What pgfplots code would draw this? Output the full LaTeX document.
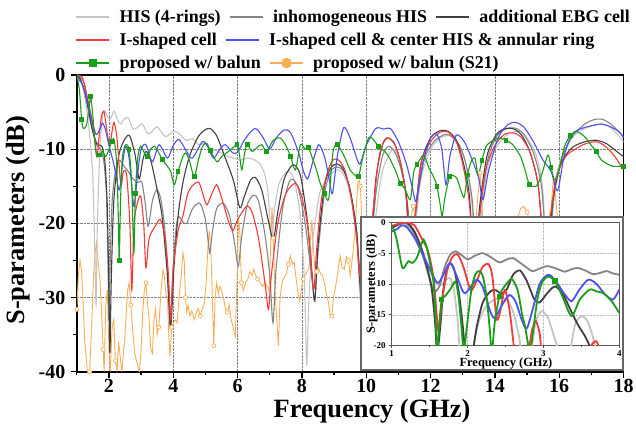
\documentclass[border=0pt]{standalone}
\usepackage{pgfplots}
\pgfplotsset{compat=1.18}
\usepackage{fontspec}
\setmainfont{Liberation Serif}
\definecolor{cLG}{HTML}{C4C4C4}
\definecolor{cMG}{HTML}{858585}
\definecolor{cDG}{HTML}{404040}
\definecolor{cR}{HTML}{F53A3A}
\definecolor{cB}{HTML}{4F4FF5}
\definecolor{cG}{HTML}{1A9E1A}
\definecolor{cO}{HTML}{F9AE55}
\pgfplotsset{
  legrow/.style={hide axis, scale only axis, width=546.7bp, height=296.7bp,
    at={(0,0)}, anchor=south west, xmin=0,xmax=1,ymin=0,ymax=1,
    legend columns=-1,
    legend image code/.code={\draw[mark repeat=2,mark phase=2,##1] plot coordinates {(0bp,0bp) (16.5bp,0bp) (33bp,0bp)};},
    legend style={at={(axis description cs:-0.0033,#1)}, anchor=west, draw=none, fill=none,
      inner sep=0pt, font=\bfseries\fontsize{18}{20}\selectfont,
      nodes={inner xsep=0pt, inner ysep=1bp},
      /tikz/every even column/.append style={column sep=8bp},
      /tikz/every odd column/.append style={column sep=9bp}}}
}
\begin{document}
\begin{tikzpicture}
\begin{axis}[name=main, at={(0,0)}, anchor=south west, scale only axis,
  width=546.7bp, height=296.7bp,
  xmin=1, xmax=18, ymin=-40, ymax=0,
  xtick={2,4,...,18}, minor xtick={1,3,...,17},
  ytick={0,-10,-20,-30,-40}, minor ytick={-5,-15,-25,-35},
  xtick pos=left, ytick pos=left, tick align=outside,
  major tick length=6bp, minor tick length=3.5bp,
  every tick/.style={black, line width=1.3bp},
  axis line style={black, line width=1.8bp},
  grid=major, grid style={densely dotted, gray, line width=0.6bp},
  /pgf/number format/assume math mode=true,
  tick label style={font=\bfseries\fontsize{20}{20}\selectfont},
  xticklabel style={yshift=2bp},
  yticklabel style={xshift=-2bp},
  xlabel={Frequency (GHz)}, ylabel={S-parameters (dB)},
  label style={font=\bfseries\fontsize{26.5}{26.5}\selectfont},
  xlabel style={at={(axis description cs:0.54,-0.132)}, anchor=center},
  ylabel style={at={(axis description cs:-0.1076,0.511)}, anchor=center, rotate=0},
  every axis plot/.append style={line width=1.1bp},
]
% proposed w/ balun (S21)
\addplot[cO, line width=0.9bp, mark=*, mark size=2bp, mark repeat=8, mark options={fill=white, draw=cO, line width=0.7bp}] coordinates {
(1.00,-31.6)(1.05,-27)(1.10,-25)(1.15,-26.5)(1.20,-31)(1.25,-36)(1.28,-37.4)(1.33,-40)(1.40,-40)(1.47,-33)(1.52,-27)(1.57,-24)(1.61,-22.6)(1.66,-25)(1.72,-27.5)(1.77,-32)(1.82,-37)(1.85,-40)(1.90,-31)(1.95,-29)(2.00,-37)(2.04,-40)(2.10,-34)(2.15,-33)(2.20,-38.5)(2.25,-40)(2.30,-36)(2.35,-38)(2.40,-40)(2.50,-35)(2.58,-29)(2.63,-28)(2.68,-31)(2.73,-34)(2.80,-37.5)(2.88,-39)(2.95,-40)(3.00,-37)(3.05,-32)(3.10,-29)(3.15,-28)(3.20,-31)(3.25,-33)(3.30,-37)(3.35,-37.5)(3.40,-33)(3.45,-31.5)(3.50,-35)(3.55,-34)(3.62,-29)(3.68,-26.3)(3.72,-27)(3.78,-29.8)(3.82,-30)(3.86,-35)(3.90,-38)(3.95,-34)(4.00,-33.5)(4.06,-33)(4.12,-33.4)(4.18,-30)(4.25,-27)(4.30,-24)(4.34,-25)(4.38,-30)(4.42,-32)(4.46,-31)(4.52,-32.5)(4.58,-31.8)(4.65,-33)(4.72,-32)(4.78,-31.5)(4.84,-32.5)(4.90,-31.5)(4.96,-31)(5.02,-28)(5.08,-23)(5.12,-21)(5.18,-25)(5.22,-31)(5.26,-36.5)(5.30,-30)(5.35,-28)(5.40,-29.5)(5.45,-28.5)(5.50,-29)(5.56,-30)(5.62,-31.5)(5.68,-32)(5.74,-31)(5.80,-33)(5.86,-34)(5.93,-35.2)(5.98,-28)(6.03,-19.5)(6.07,-21)(6.12,-28)(6.18,-29)(6.25,-28)(6.32,-27.5)(6.38,-26.5)(6.45,-27)(6.50,-26.2)(6.56,-27)(6.62,-27.5)(6.70,-28)(6.78,-28.5)(6.85,-28)(6.92,-28.5)(6.98,-29)(7.02,-24)(7.07,-17.8)(7.11,-22)(7.16,-29)(7.22,-33)(7.27,-36.5)(7.32,-30)(7.38,-28)(7.45,-27.3)(7.52,-26.8)(7.58,-25.5)(7.64,-24.4)(7.70,-25.5)(7.76,-25.2)(7.82,-27.5)(7.88,-29.5)(7.93,-30.5)(7.98,-29)(8.04,-27.5)(8.10,-27)(8.16,-26.5)(8.22,-26)(8.27,-22)(8.31,-19.5)(8.35,-23)(8.40,-26)(8.46,-26.5)(8.52,-26)(8.58,-26.8)(8.64,-27)(8.70,-28)(8.76,-29.5)(8.82,-30.5)(8.88,-32.5)(8.93,-32.5)(8.98,-30)(9.05,-28.5)(9.12,-26.5)(9.19,-24.4)(9.25,-26)(9.32,-26.2)(9.38,-24.5)(9.45,-25)(9.50,-27.1)(9.56,-25)(9.62,-22.5)(9.66,-20.9)(9.70,-17)(9.74,-14.5)(9.78,-14.2)(9.82,-15)(9.86,-19)(9.90,-24)(10.0,-28)(10.5,-27)(11.0,-25)(11.3,-23)(11.42,-18.5)(11.46,-17.7)(11.52,-19.5)(11.6,-24)(12.0,-26)(12.5,-25)(13.0,-24)(13.4,-20)(13.5,-15)(13.54,-13.2)(13.58,-16)(13.65,-21)(14.0,-24)(14.5,-22)(14.7,-19.5)(14.8,-18)(14.9,-17.7)(15.0,-18.5)(15.1,-20)(15.5,-22)(15.75,-18)(15.82,-13.7)(15.88,-16)(16.0,-22)(16.5,-24)(17.0,-23)(17.5,-24)(18.0,-23)};
% HIS (4-rings)
\addplot[cLG, smooth, tension=0.45] coordinates {
(1,0)(1.1,-0.5)(1.25,-3)(1.4,-8)(1.5,-14)(1.56,-24)(1.6,-31)(1.64,-20)(1.72,-10)(1.8,-5.5)(1.87,-4.8)(1.95,-5.6)(2.05,-5.9)(2.16,-4.9)(2.28,-6.2)(2.37,-6.6)(2.48,-5.9)(2.6,-5.8)(2.75,-7.3)(2.9,-7.0)(3.04,-6.6)(3.2,-7.9)(3.32,-7.7)(3.5,-7.0)(3.75,-8.3)(4.0,-7.6)(4.15,-7.8)(4.4,-8.8)(4.6,-8.6)(4.8,-9.4)(5.0,-9.2)(5.15,-10)(5.4,-10.3)(5.6,-10.8)(5.87,-11.2)(6.1,-11.5)(6.3,-11.2)(6.5,-11.4)(6.7,-12)(6.85,-13.5)(6.95,-16)(7.05,-22)(7.15,-18)(7.3,-14.5)(7.55,-13)(7.75,-14)(7.95,-19)(8.08,-28)(8.15,-39)(8.22,-30)(8.35,-22)(8.55,-16)(8.8,-13.8)(9.1,-12.8)(9.3,-13.5)(9.5,-16)(9.7,-22)(9.85,-32)(10.05,-30)(10.3,-19)(10.5,-13)(10.8,-10.1)(11.0,-11)(11.2,-15)(11.35,-22)(11.42,-30)(11.5,-22)(11.7,-14)(12.0,-10)(12.3,-8.5)(12.66,-8.1)(12.9,-9.5)(13.1,-12)(13.3,-18)(13.44,-30)(13.55,-20)(13.8,-12)(14.2,-8.8)(14.5,-7.8)(14.77,-7.6)(15.0,-8.5)(15.3,-11)(15.5,-16)(15.65,-30)(15.8,-17)(16.0,-12)(16.4,-8.5)(16.8,-7.2)(17.2,-6.7)(17.46,-6.7)(17.7,-7.5)(18,-9)};
% inhomogeneous HIS
\addplot[cMG, smooth, tension=0.45] coordinates {
(1.0,0)(1.1,-0.3)(1.23,-1.1)(1.35,-4)(1.45,-6.5)(1.54,-8.3)(1.62,-9.5)(1.7,-9.8)(1.78,-10.5)(1.85,-12)(1.92,-16)(1.97,-25)(2.0,-33)(2.04,-25)(2.1,-17)(2.2,-13)(2.3,-11.5)(2.4,-11.8)(2.47,-12.3)(2.6,-13)(2.75,-14)(2.9,-14.5)(3.02,-14.4)(3.12,-17)(3.22,-20.4)(3.35,-17)(3.48,-15.5)(3.6,-16.5)(3.72,-20)(3.82,-26)(3.9,-33.9)(3.98,-27)(4.08,-21)(4.16,-19.1)(4.3,-19.8)(4.42,-20)(4.6,-18)(4.83,-17.3)(5.0,-19.5)(5.1,-23)(5.14,-24)(5.22,-21)(5.35,-18)(5.56,-17.3)(5.75,-19)(5.9,-22.5)(6.02,-25.8)(6.12,-22)(6.3,-17.5)(6.5,-16.2)(6.65,-17)(6.85,-21.5)(7.0,-27)(7.1,-33.4)(7.2,-26)(7.4,-18)(7.6,-14.5)(7.74,-14.1)(7.9,-15.5)(8.1,-20)(8.3,-27)(8.4,-30.3)(8.5,-24)(8.7,-16)(8.9,-13)(9.1,-12.4)(9.3,-13)(9.5,-15.5)(9.7,-21)(9.85,-28)(10.1,-25)(10.3,-16)(10.5,-11)(10.7,-9.6)(10.9,-10.5)(11.1,-13)(11.3,-18)(11.42,-26)(11.55,-18)(11.8,-11.5)(12.1,-9)(12.45,-8)(12.65,-8.3)(12.9,-9.5)(13.1,-12)(13.3,-17)(13.42,-25)(13.55,-18)(13.8,-11)(14.1,-8)(14.4,-7.2)(14.66,-7.2)(14.9,-8)(15.2,-10.5)(15.45,-15)(15.65,-25)(15.85,-16)(16.1,-11)(16.4,-8.3)(16.8,-6.6)(17.1,-6.0)(17.36,-6.0)(17.6,-6.6)(17.8,-7.4)(18,-8.3)};
% additional EBG cell
\addplot[cDG, smooth, tension=0.45] coordinates {
(1.0,0)(1.1,-0.5)(1.23,-2)(1.35,-4.5)(1.45,-6.8)(1.54,-8.3)(1.62,-9.2)(1.72,-9.5)(1.8,-9.8)(1.88,-12)(1.95,-18)(2.0,-30)(2.03,-37.5)(2.07,-28)(2.15,-17)(2.3,-11)(2.45,-9)(2.63,-8.1)(2.8,-10.5)(2.94,-14)(3.05,-11.5)(3.15,-10.3)(3.3,-11.5)(3.5,-15.5)(3.65,-19)(3.8,-26)(3.92,-33.9)(4.02,-26)(4.15,-19)(4.3,-14.5)(4.5,-11)(4.75,-8.5)(4.95,-7.5)(5.14,-7.2)(5.35,-8.2)(5.6,-11)(5.87,-14.2)(6.07,-17.9)(6.2,-16.5)(6.4,-14.2)(6.55,-13.8)(6.75,-15.5)(6.95,-19.5)(7.11,-22.2)(7.25,-18.5)(7.45,-14)(7.73,-12.1)(7.95,-13.5)(8.15,-19)(8.3,-26)(8.4,-30.5)(8.5,-23)(8.7,-15)(8.9,-12.5)(9.1,-12)(9.3,-12.8)(9.5,-15.5)(9.7,-21)(9.85,-30)(10.1,-25)(10.3,-14)(10.5,-9.5)(10.64,-8.5)(10.85,-9)(11.05,-11.5)(11.25,-16.5)(11.38,-25)(11.5,-20)(11.7,-12)(12.0,-8.5)(12.3,-7.5)(12.55,-7.6)(12.8,-8.8)(13.0,-11.5)(13.2,-16)(13.38,-26)(13.52,-18)(13.75,-11)(14.05,-8)(14.35,-7.2)(14.6,-7.3)(14.85,-8.2)(15.1,-10.5)(15.35,-15)(15.6,-26)(15.8,-17)(16.05,-12)(16.4,-9.8)(16.8,-9)(17.15,-8.8)(17.45,-9.2)(17.7,-10)(18,-11)};
% I-shaped cell
\addplot[cR, smooth, tension=0.45] coordinates {
(1,0)(1.15,-0.2)(1.25,-1.5)(1.4,-4.5)(1.49,-6.5)(1.57,-9)(1.63,-11)(1.7,-8)(1.77,-5.5)(1.85,-5.0)(1.95,-8)(2.03,-9.5)(2.1,-7.5)(2.16,-6.4)(2.25,-8.5)(2.37,-14.8)(2.45,-13)(2.55,-13.5)(2.65,-20)(2.71,-29)(2.78,-20)(2.9,-17)(2.99,-16.4)(3.08,-20)(3.15,-26)(3.25,-22)(3.45,-20.3)(3.6,-19.5)(3.75,-22)(3.85,-27)(3.92,-33)(4.0,-26)(4.15,-21)(4.3,-19)(4.45,-16)(4.62,-14.8)(4.8,-14.5)(4.95,-16.5)(5.05,-17.5)(5.2,-16)(5.35,-14.8)(5.5,-16.5)(5.7,-19.5)(5.85,-21)(6.0,-19.5)(6.28,-17.7)(6.45,-18.5)(6.65,-22)(6.85,-28)(6.96,-31.6)(7.05,-27)(7.25,-20)(7.5,-16)(7.8,-14.6)(8.0,-16.5)(8.2,-21)(8.36,-29)(8.45,-24)(8.6,-17)(8.8,-13)(8.98,-11.4)(9.15,-11.5)(9.35,-13)(9.55,-17)(9.7,-22)(9.8,-27)(10.0,-30)(10.2,-19)(10.4,-11)(10.64,-8.5)(10.9,-9.5)(11.1,-12.5)(11.25,-17)(11.35,-25)(11.5,-20)(11.7,-12)(12.0,-9)(12.3,-7.7)(12.55,-7.7)(12.8,-9)(13.0,-12)(13.2,-17)(13.35,-25)(13.5,-20)(13.7,-13)(14.0,-9.5)(14.3,-8)(14.55,-7.8)(14.8,-8.3)(15.1,-10.5)(15.35,-15)(15.55,-25)(15.7,-20)(15.9,-14)(16.2,-11)(16.5,-10)(16.8,-9.3)(17.15,-9.0)(17.4,-9.5)(17.7,-10.8)(18,-12.8)};
% I-shaped cell & center HIS & annular ring
\addplot[cB, smooth, tension=0.45] coordinates {
(1,-0.3)(1.1,-0.8)(1.2,-1.5)(1.35,-4)(1.49,-6.5)(1.6,-8)(1.7,-7.5)(1.8,-6.5)(1.9,-7.5)(2.0,-9.5)(2.15,-12)(2.32,-15.5)(2.42,-12)(2.52,-9.6)(2.62,-11)(2.7,-14.5)(2.78,-17.7)(2.9,-13)(3.0,-10)(3.15,-9.4)(3.35,-11.7)(3.56,-9.4)(3.82,-11.2)(4.0,-9.5)(4.18,-8.7)(4.44,-10.5)(4.6,-11.2)(4.9,-9)(5.05,-9.5)(5.25,-11.2)(5.45,-10)(5.62,-9.4)(5.85,-10.5)(6.0,-10.4)(6.25,-8.5)(6.55,-7.2)(6.8,-8.5)(7.0,-10)(7.2,-8.5)(7.45,-7.4)(7.65,-7.8)(7.9,-10.5)(8.05,-13)(8.18,-14)(8.32,-12)(8.52,-9.4)(8.7,-11)(8.85,-14)(8.95,-16)(9.1,-11)(9.3,-7.1)(9.5,-8.5)(9.65,-10.5)(9.8,-12)(10.0,-9.5)(10.3,-7.2)(10.55,-7.3)(10.75,-7.2)(11.0,-9)(11.25,-12)(11.45,-15.5)(11.55,-17)(11.75,-12)(12.0,-8.5)(12.2,-8.0)(12.35,-10)(12.48,-14.8)(12.6,-11)(12.8,-8.1)(13.05,-9)(13.3,-11.5)(13.5,-14)(13.63,-16.8)(13.8,-13)(14.1,-8.5)(14.4,-6.7)(14.65,-6.4)(14.9,-7)(15.2,-9)(15.5,-11.5)(15.75,-13)(15.95,-15.6)(16.15,-11)(16.4,-8)(16.7,-7.2)(16.95,-6.9)(17.3,-6.6)(17.6,-7.0)(17.85,-7.6)(18,-8.5)};
% proposed w/ balun
\addplot[cG, smooth, tension=0.45, mark=square*, mark size=1.8bp, mark repeat=4, mark phase=3, mark options={solid, fill=cG}] coordinates {
(1,0)(1.08,-2)(1.15,-6)(1.2,-7.2)(1.3,-6.8)(1.38,-4.5)(1.43,-2.9)(1.5,-5.5)(1.56,-9)(1.62,-11)(1.7,-10.8)(1.8,-10.3)(1.9,-11)(2.0,-10)(2.08,-9)(2.16,-8.7)(2.24,-12)(2.29,-19)(2.32,-25)(2.36,-17)(2.42,-11)(2.52,-9.4)(2.62,-10)(2.7,-14)(2.75,-21)(2.78,-23.8)(2.82,-16)(2.9,-11)(2.99,-9.6)(3.1,-10.5)(3.2,-11)(3.3,-10)(3.42,-9.6)(3.55,-10.5)(3.66,-11.4)(3.8,-12.2)(3.92,-13)(4.03,-14.8)(4.15,-13)(4.3,-11)(4.39,-10.5)(4.5,-11.5)(4.65,-13.7)(4.78,-11.5)(4.91,-9.6)(5.04,-9.2)(5.15,-10.2)(5.36,-11.7)(5.5,-11)(5.75,-10.2)(5.98,-9.4)(6.05,-10.5)(6.13,-12.8)(6.22,-10.5)(6.3,-9.4)(6.45,-10.3)(6.6,-9.8)(6.75,-9.4)(6.9,-10.3)(7.11,-8.8)(7.33,-8.5)(7.5,-9.5)(7.65,-11)(7.8,-12.8)(7.95,-9.4)(8.1,-10)(8.2,-9.8)(8.31,-11)(8.45,-12.8)(8.57,-14.6)(8.7,-16)(8.83,-16.8)(8.92,-12.5)(8.98,-10)(9.1,-9.4)(9.3,-10.8)(9.5,-12.8)(9.65,-13.5)(9.76,-13.7)(9.9,-11)(10.07,-8.5)(10.18,-8.5)(10.38,-9.6)(10.55,-10.2)(10.7,-11)(10.9,-12.8)(11.06,-14.6)(11.2,-15.3)(11.37,-16.8)(11.48,-13)(11.58,-12.1)(11.78,-10.8)(11.95,-12.5)(12.1,-13.8)(12.2,-15)(12.3,-17.5)(12.36,-19)(12.45,-16.5)(12.6,-13.7)(12.8,-13.8)(12.97,-15.9)(13.05,-16.4)(13.15,-13.5)(13.25,-11.8)(13.38,-11.2)(13.48,-13.5)(13.6,-11.5)(13.73,-9.6)(13.95,-8.8)(14.15,-8.5)(14.35,-8.8)(14.56,-9.4)(14.8,-11)(14.95,-13)(15.08,-14.8)(15.28,-15)(15.45,-13.5)(15.65,-10.8)(15.75,-12.5)(15.85,-14.1)(15.95,-13.5)(16.17,-9.6)(16.35,-8.2)(16.53,-7.6)(16.79,-8.3)(17.0,-9.5)(17.15,-10.3)(17.3,-11.4)(17.5,-12)(17.67,-12.3)(18,-12.3)};
\end{axis}
% legend rows
\begin{axis}[legrow=1.1955]
\addlegendimage{cLG, line width=2.4bp}\addlegendentry{HIS (4-rings)}
\addlegendimage{cMG, line width=2.4bp}\addlegendentry{inhomogeneous HIS}
\addlegendimage{cDG, line width=2.4bp}\addlegendentry{additional EBG cell}
\end{axis}
\begin{axis}[legrow=1.1177]
\addlegendimage{cR, line width=2.4bp}\addlegendentry{I-shaped cell}
\addlegendimage{cB, line width=2.4bp}\addlegendentry{I-shaped cell \& center HIS \& annular ring}
\end{axis}
\begin{axis}[legrow=1.04]
\addlegendimage{cG, line width=2.4bp, mark=square*, mark size=3bp}\addlegendentry{proposed w/ balun}
\addlegendimage{cO, line width=2.4bp, mark=*, mark size=4bp}\addlegendentry{proposed w/ balun (S21)}
\end{axis}
% inset frame
\filldraw[fill=white, draw=black!60, line width=1.5bp] (284.2bp,1.8bp) rectangle (546bp,154.7bp);
\begin{axis}[at={(314.9bp,26bp)}, anchor=south west, scale only axis,
  width=227.6bp, height=123.4bp,
  xmin=1, xmax=4, ymin=-20, ymax=0,
  xtick={1,2,3,4}, ytick={0,-5,-10,-15,-20},
  minor xtick={1.5,2.5,3.5},
  xtick pos=left, ytick pos=left, tick align=outside,
  major tick length=2.5bp, minor tick length=1.5bp,
  every tick/.style={black!70, line width=0.8bp},
  axis line style={black!65, line width=1.2bp},
  grid=major, grid style={densely dotted, black!25, line width=0.5bp},
  /pgf/number format/assume math mode=true,
  tick label style={font=\bfseries\fontsize{9}{9}\selectfont},
  xticklabel style={yshift=1bp},
  xlabel={Frequency (GHz)}, ylabel={S-parameters (dB)},
  label style={font=\bfseries\fontsize{12.5}{12.5}\selectfont},
  xlabel style={at={(axis description cs:0.502,-0.148)}, anchor=center},
  ylabel style={at={(axis description cs:-0.0866,0.5)}, anchor=center},
  every axis plot/.append style={line width=1.8bp},
]
\addplot[cLG, smooth, tension=0.45] coordinates {
(1.0,-0.9)(1.1,-0.3)(1.2,-0.5)(1.3,-2.2)(1.4,-5.0)(1.5,-7.8)(1.58,-9.8)(1.65,-10.2)(1.72,-9.3)(1.77,-9.1)(1.82,-11)(1.87,-16)(1.9,-21)(1.98,-26)(2.06,-21)(2.15,-16)(2.25,-13.5)(2.35,-12.6)(2.45,-12.3)(2.52,-12.5)(2.6,-14.5)(2.67,-18)(2.71,-21)(2.78,-25)(2.84,-21)(2.9,-16)(2.98,-14.4)(3.06,-15.5)(3.14,-18.5)(3.2,-21)(3.28,-25)(3.35,-21)(3.42,-16.5)(3.5,-15.2)(3.58,-16)(3.65,-18.5)(3.7,-21)(3.8,-25)(4.0,-25)};
\addplot[cMG, smooth, tension=0.45] coordinates {
(1.0,-0.9)(1.08,-0.3)(1.15,0)(1.25,-0.8)(1.35,-3.2)(1.45,-7)(1.52,-10)(1.57,-11.2)(1.63,-10.3)(1.7,-7.2)(1.77,-5.3)(1.84,-4.7)(1.92,-5.3)(2.0,-6.0)(2.1,-5.4)(2.2,-5.0)(2.3,-5.6)(2.42,-6.5)(2.52,-6.0)(2.6,-5.8)(2.72,-6.8)(2.85,-7.9)(2.95,-7.5)(3.05,-7.1)(3.17,-7.5)(3.28,-8.0)(3.37,-7.6)(3.45,-7.4)(3.55,-7.8)(3.65,-8.4)(3.75,-8.2)(3.83,-7.9)(3.92,-8.3)(4.0,-8.5)};
\addplot[cDG, smooth, tension=0.45] coordinates {
(1.0,-0.9)(1.1,-0.3)(1.2,0)(1.3,-1.5)(1.4,-4.5)(1.48,-8)(1.53,-11)(1.57,-16)(1.6,-21)(1.64,-17)(1.68,-11)(1.73,-7.5)(1.77,-6.6)(1.82,-7.5)(1.88,-11)(1.93,-16)(1.97,-21)(2.02,-24)(2.07,-21)(2.12,-17)(2.2,-13)(2.3,-11.2)(2.37,-11)(2.45,-11.6)(2.52,-10.8)(2.6,-8.5)(2.69,-7.8)(2.78,-9.5)(2.88,-12.5)(2.95,-13)(3.05,-11.5)(3.15,-10.4)(3.25,-11.5)(3.35,-14)(3.45,-16.5)(3.55,-18.5)(3.65,-21)(3.8,-24)(4.0,-25)};
\addplot[cR, smooth, tension=0.45] coordinates {
(1.0,-0.6)(1.1,-0.2)(1.2,0)(1.3,-0.5)(1.39,-2.5)(1.48,-4.7)(1.55,-9)(1.6,-16)(1.62,-17.5)(1.66,-13)(1.73,-7.9)(1.8,-5.6)(1.87,-5.2)(1.95,-7.4)(2.04,-11)(2.12,-9.5)(2.2,-7.2)(2.28,-6.8)(2.33,-9)(2.38,-15.5)(2.42,-15)(2.49,-11)(2.55,-14)(2.6,-19)(2.62,-21)(2.7,-25)(2.8,-21)(2.85,-17.5)(2.9,-16)(2.95,-18)(2.98,-21)(3.1,-25)(3.5,-25)(3.6,-21)(3.65,-19.6)(3.7,-19.3)(3.75,-21)(3.85,-25)(4.0,-25)};
\addplot[cB, smooth, tension=0.45] coordinates {
(1.0,-1.5)(1.07,-1.1)(1.13,-0.5)(1.2,-0.8)(1.3,-2.5)(1.39,-4.7)(1.5,-7.5)(1.58,-9.5)(1.62,-9.8)(1.68,-8.5)(1.77,-6.6)(1.85,-8.5)(1.93,-11)(1.97,-11.5)(2.04,-10.5)(2.12,-9.3)(2.2,-10.5)(2.3,-14.5)(2.36,-15.5)(2.45,-13.5)(2.55,-11.8)(2.63,-12.8)(2.72,-16)(2.78,-17.2)(2.85,-14.5)(2.95,-10)(3.06,-8.5)(3.15,-9.3)(3.27,-11.5)(3.37,-12.8)(3.47,-11)(3.59,-9.3)(3.7,-10)(3.82,-11.8)(3.92,-12.5)(4.0,-10.9)};
\addplot[cG, smooth, tension=0.45, mark=square*, mark size=1.8bp, mark indices={15,29,39,48,55,59}, mark options={fill=cG}] coordinates {
(1.0,-0.4)(1.06,-2.5)(1.13,-6.9)(1.16,-7.4)(1.22,-6.3)(1.27,-6.6)(1.33,-5.8)(1.39,-3.6)(1.42,-2.8)(1.46,-4)(1.5,-6.3)(1.55,-9.6)(1.58,-16)(1.6,-21)(1.63,-16)(1.66,-12.5)(1.7,-12)(1.77,-10.9)(1.84,-9.6)(1.88,-12)(1.92,-17)(1.95,-21)(1.99,-17)(2.05,-11)(2.1,-8.5)(2.15,-7.9)(2.2,-8.7)(2.25,-12)(2.29,-17)(2.32,-21)(2.36,-16)(2.42,-12)(2.48,-10.5)(2.58,-9.2)(2.66,-11)(2.72,-15)(2.76,-17)(2.82,-21)(2.86,-18)(2.92,-12.5)(2.98,-9.8)(3.06,-8.8)(3.15,-9.5)(3.25,-12)(3.37,-15.2)(3.48,-12.5)(3.61,-10.9)(3.7,-11.2)(3.79,-11.5)(3.9,-12.8)(4.0,-14.7)};
\end{axis}
\pgfresetboundingbox
\path[use as bounding box] (-76.8bp,-62.3bp) rectangle (559.2bp,371.7bp);
\end{tikzpicture}
\end{document}
